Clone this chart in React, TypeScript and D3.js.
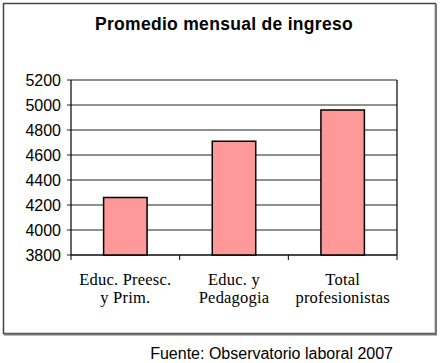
import React from "react";
import * as d3 from "d3";

const categories = ["Educ. Preesc.|y Prim.", "Educ. y|Pedagogia", "Total|profesionistas"];
const values = [4260, 4710, 4960];
const yTicks = [3800, 4000, 4200, 4400, 4600, 4800, 5000, 5200];
const title = "Promedio mensual de ingreso";
const source = "Fuente: Observatorio laboral 2007";

export default function App() {
  const W = 440, H = 363;
  const left = 71, right = 397, top = 80, bottom = 255;
  const x = d3.scaleBand<string>().domain(categories).range([left, right]).paddingInner(0.6).paddingOuter(0.3);
  const xb = d3.scaleBand<string>().domain(categories).range([left, right]);
  const y = d3.scaleLinear().domain([3800, 5200]).range([bottom, top]);
  const boundaries = [left, ...categories.map((c) => (xb(c) as number) + xb.bandwidth())];
  return (
    <svg width={W} height={H} style={{ position: "absolute", left: 0, top: 0 }}>
      <rect x={0} y={0} width={W} height={H} fill="#fff" />
      <rect x={3.5} y={3.5} width={432} height={330} fill="#fff" stroke="#444" strokeWidth={1.5} />
      <line x1={436} y1={4} x2={436} y2={334.5} stroke="#777" strokeWidth={2} />
      <line x1={4} y1={334.5} x2={437} y2={334.5} stroke="#777" strokeWidth={2} />
      <text x={224} y={30} textAnchor="middle" fontFamily="Liberation Sans, Arial, sans-serif" fontWeight="bold" fontSize={17.5} letterSpacing={0.3} fill="#000">{title}</text>
      {yTicks.map((t) => (
        <g key={t}>
          <line x1={left - 4} x2={right} y1={y(t)} y2={y(t)} stroke="#222" strokeWidth={1} />
          <text x={61} y={y(t) + 5.5} textAnchor="end" fontFamily="Liberation Sans, Arial, sans-serif" fontSize={16} fill="#000">{t}</text>
        </g>
      ))}
      <line x1={left} x2={left} y1={top} y2={bottom} stroke="#000" strokeWidth={1.2} />
      <line x1={right} x2={right} y1={top} y2={bottom} stroke="#000" strokeWidth={1.2} />
      <line x1={left} x2={right} y1={bottom} y2={bottom} stroke="#000" strokeWidth={1.2} />
      {boundaries.map((b, i) => (
        <line key={i} x1={b} x2={b} y1={bottom} y2={bottom + 5} stroke="#000" strokeWidth={1} />
      ))}
      {categories.map((c, i) => (
        <rect key={c} x={x(c)} y={y(values[i])} width={x.bandwidth()} height={bottom - y(values[i])} fill="#FF9999" stroke="#000" strokeWidth={1.5} />
      ))}
      {categories.map((c) => {
        const cx = (xb(c) as number) + xb.bandwidth() / 2;
        return c.split("|").map((line, j) => (
          <text key={c + j} x={cx} y={285 + j * 18} textAnchor="middle" fontFamily="Liberation Serif, Times New Roman, serif" fontSize={16.5} letterSpacing={0.2} fill="#000">{line}</text>
        ));
      })}
      <text x={393} y={359} textAnchor="end" fontFamily="Liberation Sans, Arial, sans-serif" fontSize={16} fill="#000">{source}</text>
    </svg>
  );
}
